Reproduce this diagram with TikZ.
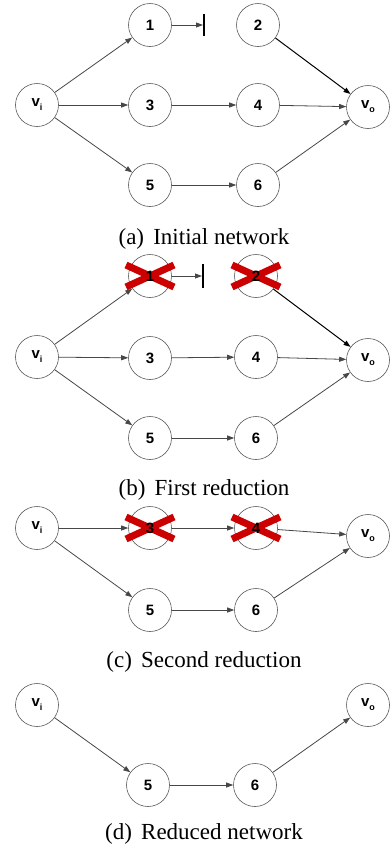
\documentclass[tikz,border=0pt]{standalone}
\usepackage{fontspec}
\setmainfont{Liberation Serif}
\setsansfont{Liberation Sans}
\usetikzlibrary{arrows.meta}

\definecolor{edgegray}{HTML}{474747}
\definecolor{crossred}{HTML}{CC0000}
\newcommand{\subv}[1]{v\raisebox{-4pt}{\fontsize{9}{9}\selectfont #1}}

\begin{document}
\begin{tikzpicture}[x=1pt,y=-1pt,
    vertex/.style={circle,draw=black!65,semithick,fill=white,minimum size=43pt,inner sep=0pt,
                   font=\sffamily\bfseries\fontsize{15}{15}\selectfont},
    cut/.style={draw=crossred,line width=7pt},
    caption/.style={font=\fontsize{23}{23}\selectfont}]
\useasboundingbox (0,0) rectangle (390,852);

% (a) initial network
\begin{scope}[every node/.style={vertex}]
    \node (ai) at (37,105) {\subv{i}};
    \node (a1) at (150,25) {1};
    \node (a2) at (258,25) {2};
    \node (a3) at (150,105) {3};
    \node (a4) at (258,105) {4};
    \node (a5) at (150,185) {5};
    \node (a6) at (258,185) {6};
    \node (ao) at (368,107) {\subv{o}};
\end{scope}
\coordinate (abar) at (203,25);
\coordinate (abart) at (204,14);
\coordinate (abarb) at (204,36);

\begin{scope}[>={Triangle[length=7pt,width=5pt]},
              every edge/.style={draw=edgegray, line width=0.8pt}]
    \path [->] (ai) edge (a1);
    \path [->] (ai) edge (a3);
    \path [->] (ai) edge (a5);
    \path [->] (a1) edge (abar);
    \path [->] (a3) edge (a4);
    \path [->] (a4) edge (ao);
    \path [->] (a5) edge (a6);
    \path [->] (a6) edge (ao);
    \path [->] (a2) edge [draw=black, line width=1pt] (ao);
\end{scope}
\draw [line width=1.3pt] (abart) -- (abarb);
\node [caption] (capa) at (204,239) {(a)\hspace{0.4em}Initial network};

% (b) first reduction
\begin{scope}[every node/.style={vertex}]
    \node (bi) at (37,357) {\subv{i}};
    \node (b1) at (150,276) {};
    \node (b2) at (256,276) {};
    \node (b3) at (150,358) {3};
    \node (b4) at (256,357) {4};
    \node (b5) at (150,438) {5};
    \node (b6) at (256,438) {6};
    \node (bo) at (368,360) {\subv{o}};
\end{scope}
\coordinate (bbar) at (202,276);
\coordinate (bbart) at (203,264);
\coordinate (bbarb) at (203,288);

\begin{scope}[>={Triangle[length=7pt,width=5pt]},
              every edge/.style={draw=edgegray, line width=0.8pt}]
    \path [->] (bi) edge (b1);
    \path [->] (bi) edge (b3);
    \path [->] (bi) edge (b5);
    \path [->] (b1) edge (bbar);
    \path [->] (b3) edge (b4);
    \path [->] (b4) edge (bo);
    \path [->] (b5) edge (b6);
    \path [->] (b6) edge (bo);
    \path [->] (b2) edge [draw=black, line width=1pt] (bo);
\end{scope}
\draw [line width=1.3pt] (bbart) -- (bbarb);
\draw [cut] ([shift={(-24,-11)}]b1.center) -- ([shift={(24,11)}]b1.center)
            ([shift={(-24,11)}]b1.center) -- ([shift={(24,-11)}]b1.center);
\draw [cut] ([shift={(-24,-11)}]b2.center) -- ([shift={(24,11)}]b2.center)
            ([shift={(-24,11)}]b2.center) -- ([shift={(24,-11)}]b2.center);
\node [vertex, draw=none, fill=none] (b1t) at (b1) {1};
\node [vertex, draw=none, fill=none] (b2t) at (b2) {2};
\node [caption] (capb) at (204,490) {(b)\hspace{0.4em}First reduction};

% (c) second reduction
\begin{scope}[every node/.style={vertex}]
    \node (ci) at (37,528) {\subv{i}};
    \node (c3) at (150,528) {};
    \node (c4) at (256,528) {};
    \node (c5) at (150,610) {5};
    \node (c6) at (256,610) {6};
    \node (co) at (368,536) {\subv{o}};
\end{scope}

\begin{scope}[>={Triangle[length=7pt,width=5pt]},
              every edge/.style={draw=edgegray, line width=0.8pt}]
    \path [->] (ci) edge (c3);
    \path [->] (ci) edge (c5);
    \path [->] (c3) edge (c4);
    \path [->] (c4) edge (co);
    \path [->] (c5) edge (c6);
    \path [->] (c6) edge (co);
\end{scope}
\draw [cut] ([shift={(-24,-11)}]c3.center) -- ([shift={(24,11)}]c3.center)
            ([shift={(-24,11)}]c3.center) -- ([shift={(24,-11)}]c3.center);
\draw [cut] ([shift={(-24,-11)}]c4.center) -- ([shift={(24,11)}]c4.center)
            ([shift={(-24,11)}]c4.center) -- ([shift={(24,-11)}]c4.center);
\node [vertex, draw=none, fill=none] (c3t) at (c3) {3};
\node [vertex, draw=none, fill=none] (c4t) at (c4) {4};
\node [caption] (capc) at (204,662) {(c)\hspace{0.4em}Second reduction};

% (d) reduced network
\begin{scope}[every node/.style={vertex}]
    \node (di) at (37,705) {\subv{i}};
    \node (d5) at (148,785) {5};
    \node (d6) at (255,785) {6};
    \node (do) at (368,705) {\subv{o}};
\end{scope}

\begin{scope}[>={Triangle[length=7pt,width=5pt]},
              every edge/.style={draw=edgegray, line width=0.8pt}]
    \path [->] (di) edge (d5);
    \path [->] (d5) edge (d6);
    \path [->] (d6) edge (do);
\end{scope}
\node [caption] (capd) at (204,834) {(d)\hspace{0.4em}Reduced network};
\end{tikzpicture}
\end{document}
